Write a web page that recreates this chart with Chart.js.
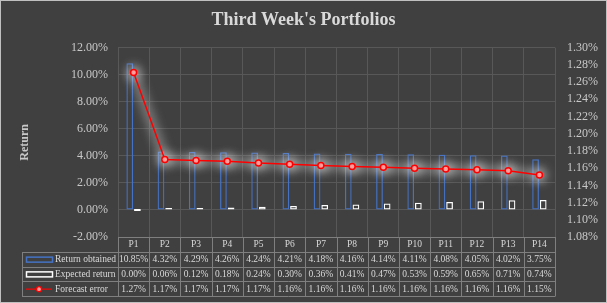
<!DOCTYPE html>
<html lang="en">
<head>
    <meta charset="UTF-8">
    <title>Third Week's Portfolios</title>
    <style>
        html, body {
            margin: 0;
            padding: 0;
            background-color: #404040;
        }

        #chart-box {
            width: 607px;
            height: 303px;
        }
    </style>
</head>
<body>
    <div id="chart-box">
        <canvas id="portfolio-chart"></canvas>
    </div>

    <script src="https://cdn.jsdelivr.net/npm/chart.js"></script>
    <script>
        const portfolios = ['P1', 'P2', 'P3', 'P4', 'P5', 'P6', 'P7', 'P8', 'P9', 'P10', 'P11', 'P12', 'P13', 'P14'];
        const returnObtained = [10.85, 4.32, 4.29, 4.26, 4.24, 4.21, 4.18, 4.16, 4.14, 4.11, 4.08, 4.05, 4.02, 3.75];
        const expectedReturn = [0.00, 0.06, 0.12, 0.18, 0.24, 0.30, 0.36, 0.41, 0.47, 0.53, 0.59, 0.65, 0.71, 0.74];
        const forecastError = [1.271, 1.170, 1.169, 1.168, 1.166, 1.1645, 1.163, 1.162, 1.161, 1.160, 1.159, 1.158, 1.157, 1.152];

        const textColor = '#d9d9d9';
        const tickColor = '#c8c8c8';
        const gridColor = '#585858';
        const tableLine = '#7f7f7f';
        const serif = "'Liberation Serif', 'Times New Roman', serif";

        // soft glow behind the forecast error line
        const glowPlugin = {
            id: 'glow',
            beforeDatasetDraw(chart, args) {
                if (args.meta.type !== 'line') return;
                const ctx = chart.ctx;
                const pts = args.meta.data;
                ctx.save();
                ctx.filter = 'blur(5px)';
                ctx.strokeStyle = 'rgba(210, 210, 210, 0.4)';
                ctx.lineWidth = 10;
                ctx.lineJoin = 'round';
                ctx.beginPath();
                pts.forEach((p, i) => i === 0 ? ctx.moveTo(p.x, p.y) : ctx.lineTo(p.x, p.y));
                ctx.stroke();
                ctx.fillStyle = 'rgba(235, 235, 235, 0.45)';
                pts.forEach(p => {
                    ctx.beginPath();
                    ctx.arc(p.x, p.y, 8, 0, Math.PI * 2);
                    ctx.fill();
                });
                ctx.restore();
            }
        };

        // background, outer frame and the data table under the plot
        const tablePlugin = {
            id: 'dataTable',
            beforeDraw(chart) {
                const ctx = chart.ctx;
                ctx.save();
                ctx.fillStyle = '#404040';
                ctx.fillRect(0, 0, chart.width, chart.height);
                ctx.restore();
            },
            afterDraw(chart) {
                const ctx = chart.ctx;
                const area = chart.chartArea;
                const colW = (area.right - area.left) / portfolios.length;
                const rowH = 14.75;
                const top = area.bottom;
                const keyLeft = 22;

                ctx.save();
                ctx.strokeStyle = tableLine;
                ctx.lineWidth = 1;

                // horizontal lines
                ctx.beginPath();
                ctx.moveTo(area.left, top + 0.5);
                ctx.lineTo(area.right, top + 0.5);
                for (let r = 1; r <= 4; r++) {
                    const y = Math.round(top + r * rowH) + 0.5;
                    ctx.moveTo(keyLeft, y);
                    ctx.lineTo(area.right, y);
                }
                // vertical lines
                for (let c = 0; c <= portfolios.length; c++) {
                    const x = Math.round(area.left + c * colW) + 0.5;
                    ctx.moveTo(x, top);
                    ctx.lineTo(x, Math.round(top + 4 * rowH) + 0.5);
                }
                ctx.moveTo(keyLeft + 0.5, Math.round(top + rowH) + 0.5);
                ctx.lineTo(keyLeft + 0.5, Math.round(top + 4 * rowH) + 0.5);
                ctx.stroke();

                ctx.fillStyle = textColor;
                ctx.font = '9.5px ' + serif;
                ctx.textBaseline = 'middle';
                ctx.textAlign = 'center';

                const rows = [
                    portfolios,
                    returnObtained.map(v => v.toFixed(2) + '%'),
                    expectedReturn.map(v => v.toFixed(2) + '%'),
                    forecastError.map(v => v.toFixed(2) + '%')
                ];
                rows.forEach((row, r) => {
                    const y = top + r * rowH + rowH / 2 + 0.5;
                    row.forEach((txt, c) => {
                        ctx.fillText(txt, area.left + c * colW + colW / 2, y);
                    });
                });

                // legend keys
                const names = chart.data.datasets.map(d => d.label);
                const keyOrder = [1, 2, 0];
                ctx.textAlign = 'left';
                keyOrder.forEach((di, r) => {
                    const ds = chart.data.datasets[di];
                    const y = top + (r + 1) * rowH + rowH / 2 + 0.5;
                    if (ds.type === 'line') {
                        ctx.strokeStyle = ds.borderColor;
                        ctx.lineWidth = 1.2;
                        ctx.beginPath();
                        ctx.moveTo(26, y);
                        ctx.lineTo(52, y);
                        ctx.stroke();
                        ctx.fillStyle = ds.pointBackgroundColor;
                        ctx.strokeStyle = ds.pointBorderColor;
                        ctx.beginPath();
                        ctx.arc(39, y, 2.5, 0, Math.PI * 2);
                        ctx.fill();
                        ctx.stroke();
                    } else {
                        ctx.strokeStyle = ds.borderColor;
                        ctx.lineWidth = 1.5;
                        ctx.strokeRect(26.5, y - 2.5, 26, 5);
                    }
                    ctx.fillStyle = textColor;
                    ctx.fillText(names[di], 55, y);
                });

                // frame
                ctx.strokeStyle = '#c0c0c0';
                ctx.lineWidth = 1;
                ctx.strokeRect(0.5, 0.5, chart.width - 1, chart.height - 1);
                ctx.restore();
            }
        };

        const chartCtx = document.getElementById('portfolio-chart').getContext('2d');

        const portfolioChart = new Chart(chartCtx, {
            data: {
                labels: portfolios,
                datasets: [
                    {
                        type: 'line',
                        label: 'Forecast error',
                        data: forecastError,
                        yAxisID: 'y1',
                        borderColor: '#ff0000',
                        borderWidth: 1.5,
                        pointRadius: 3,
                        pointBackgroundColor: '#ff9c9c',
                        pointBorderColor: '#ff0000',
                        pointBorderWidth: 1.5,
                        tension: 0,
                        order: 0
                    },
                    {
                        type: 'bar',
                        label: 'Return obtained',
                        data: returnObtained,
                        yAxisID: 'y',
                        backgroundColor: 'rgba(0, 0, 0, 0)',
                        borderColor: '#4472c4',
                        borderWidth: 1.25,
                        borderSkipped: false,
                        categoryPercentage: 0.49,
                        barPercentage: 0.88,
                        order: 1
                    },
                    {
                        type: 'bar',
                        label: 'Expected return',
                        data: expectedReturn,
                        yAxisID: 'y',
                        backgroundColor: 'rgba(0, 0, 0, 0)',
                        borderColor: '#ffffff',
                        borderWidth: 1.25,
                        borderSkipped: false,
                        minBarLength: 2,
                        categoryPercentage: 0.49,
                        barPercentage: 0.88,
                        order: 1
                    }
                ]
            },
            options: {
                responsive: true,
                maintainAspectRatio: false,
                animation: false,
                layout: {
                    padding: { left: 0, right: 0, top: 0, bottom: 66 }
                },
                plugins: {
                    legend: { display: false },
                    tooltip: { enabled: false },
                    title: {
                        display: true,
                        text: "Third Week's Portfolios",
                        color: textColor,
                        font: { family: serif, size: 18, weight: 'bold' },
                        padding: { top: 10, bottom: 16 }
                    }
                },
                scales: {
                    x: {
                        offset: true,
                        grid: { color: gridColor, offset: true, drawTicks: false },
                        border: { display: false },
                        ticks: { display: false },
                        afterFit(scale) { scale.height = 0; }
                    },
                    y: {
                        position: 'left',
                        min: -2,
                        max: 12,
                        grid: { color: gridColor, drawTicks: false },
                        border: { color: gridColor },
                        ticks: {
                            stepSize: 2,
                            padding: 10,
                            autoSkip: false,
                            color: tickColor,
                            font: { family: serif, size: 12 },
                            callback: v => v.toFixed(2) + '%'
                        },
                        title: {
                            display: true,
                            text: 'Return',
                            color: tickColor,
                            font: { family: serif, size: 12, weight: 'bold' },
                            padding: { top: 18, bottom: 0 }
                        },
                        afterFit(scale) { scale.width = 118; }
                    },
                    y1: {
                        position: 'right',
                        min: 1.08,
                        max: 1.30,
                        grid: { display: false, drawTicks: false },
                        border: { display: false },
                        ticks: {
                            stepSize: 0.02,
                            padding: 12,
                            autoSkip: false,
                            color: tickColor,
                            font: { family: serif, size: 12 },
                            callback: v => v.toFixed(2) + '%'
                        },
                        afterFit(scale) { scale.width = 52; }
                    }
                }
            },
            plugins: [glowPlugin, tablePlugin]
        });
    </script>
</body>
</html>
